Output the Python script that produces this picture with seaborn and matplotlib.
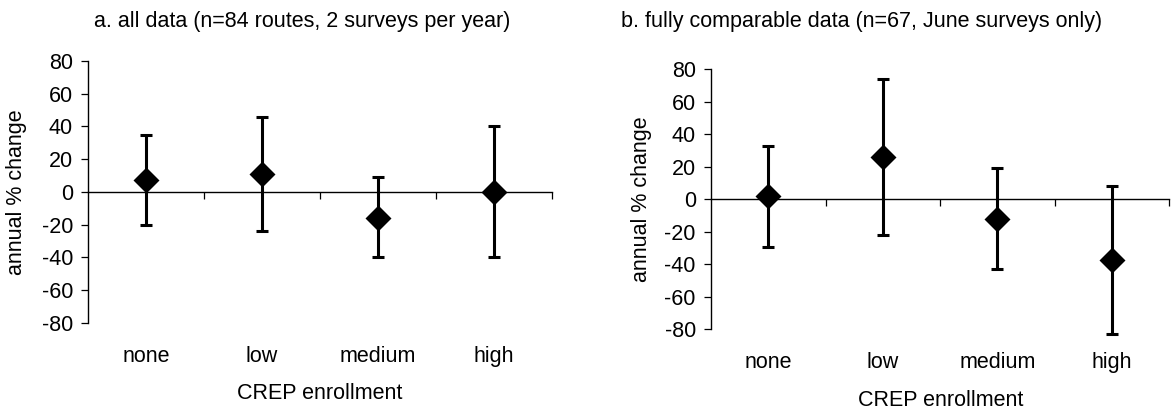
import matplotlib
matplotlib.use("Agg")
import matplotlib.pyplot as plt
import seaborn as sns
import pandas as pd
import numpy as np

# CREP enrollment classes
levels = ["none", "low", "medium", "high"]

# a. all data (n=84 routes, 2 surveys per year)
mean_all = [7.2, 11.0, -15.8, 0.0]
upper_all = [35.0, 46.0, 9.0, 40.0]
lower_all = [-20.0, -24.0, -40.0, -40.0]

# b. fully comparable data (n=67, June surveys only)
mean_june = [2.0, 26.2, -12.1, -37.4]
upper_june = [32.8, 74.0, 19.1, 8.2]
lower_june = [-29.5, -22.0, -43.0, -83.0]

yticks = [-80, -60, -40, -20, 0, 20, 40, 60, 80]

sns.set_style("white")
plt.rcParams["font.family"] = ["Liberation Sans", "DejaVu Sans"]
plt.rcParams["axes.unicode_minus"] = False
for key in ["text.color", "axes.labelcolor", "xtick.color", "ytick.color"]:
    plt.rcParams[key] = "black"
FS = 15.5

fig = plt.figure(figsize=(11.71, 4.11), dpi=100)

panels = [
    dict(title="a. all data (n=84 routes, 2 surveys per year)",
         mean=mean_all, upper=upper_all, lower=lower_all,
         rect=[0.0754, 0.2148, 0.3957, 0.6367],
         title_xy=(302 / 1171, 1 - 22 / 411), ylab_x=-0.133),
    dict(title="b. fully comparable data (n=67, June surveys only)",
         mean=mean_june, upper=upper_june, lower=lower_june,
         rect=[0.6072, 0.1988, 0.3914, 0.6326],
         title_xy=(862 / 1171, 1 - 22 / 411), ylab_x=-0.129),
]

for p in panels:
    ax = fig.add_axes(p["rect"])
    df = pd.DataFrame({"level": levels, "mean": p["mean"],
                       "upper": p["upper"], "lower": p["lower"]})
    m = df["mean"].to_numpy()
    yerr = np.vstack([m - df["lower"].to_numpy(), df["upper"].to_numpy() - m])

    # confidence intervals
    ax.errorbar(np.arange(len(levels)), m, yerr=yerr, fmt="none",
                ecolor="black", elinewidth=2.2, capsize=4, capthick=2.2,
                clip_on=False, zorder=2)
    # estimates
    sns.pointplot(data=df, x="level", y="mean", order=levels, color="black",
                  marker="D", markersize=11, linestyle="none",
                  errorbar=None, ax=ax)

    ax.set_xlim(-0.5, len(levels) - 0.5)
    ax.set_ylim(-80, 80)
    ax.set_yticks(yticks)
    ax.tick_params(axis="y", direction="out", length=5, width=0.9,
                   pad=6, labelsize=FS, left=True, colors="black")

    # horizontal axis drawn through zero, ticks between categories
    for s in ["top", "right"]:
        ax.spines[s].set_visible(False)
    ax.spines["bottom"].set_position(("data", 0))
    ax.spines["left"].set_linewidth(1.0)
    ax.spines["bottom"].set_linewidth(1.0)
    ax.spines["left"].set_color("black")
    ax.spines["bottom"].set_color("black")
    ax.set_xticks(np.arange(len(levels)) + 0.5, labels=[""] * len(levels))
    ax.tick_params(axis="x", direction="out", length=5, width=0.9,
                   bottom=True, colors="black")
    ax.set_xlabel("")

    # category names along the bottom of the plot area
    sec = ax.secondary_xaxis("bottom")
    sec.set_xticks(np.arange(len(levels)), labels=levels)
    sec.tick_params(axis="x", length=0, pad=16.5, labelsize=FS,
                    colors="black")
    sec.spines["bottom"].set_visible(False)
    sec.set_xlabel("CREP enrollment", fontsize=FS, labelpad=12,
                   color="black")

    ax.set_ylabel("annual % change", fontsize=FS, color="black")
    ax.yaxis.set_label_coords(p["ylab_x"], 0.5)

    fig.text(p["title_xy"][0], p["title_xy"][1], p["title"], fontsize=FS,
             ha="center", va="center", color="black")

fig.savefig("out.png", dpi=100)
